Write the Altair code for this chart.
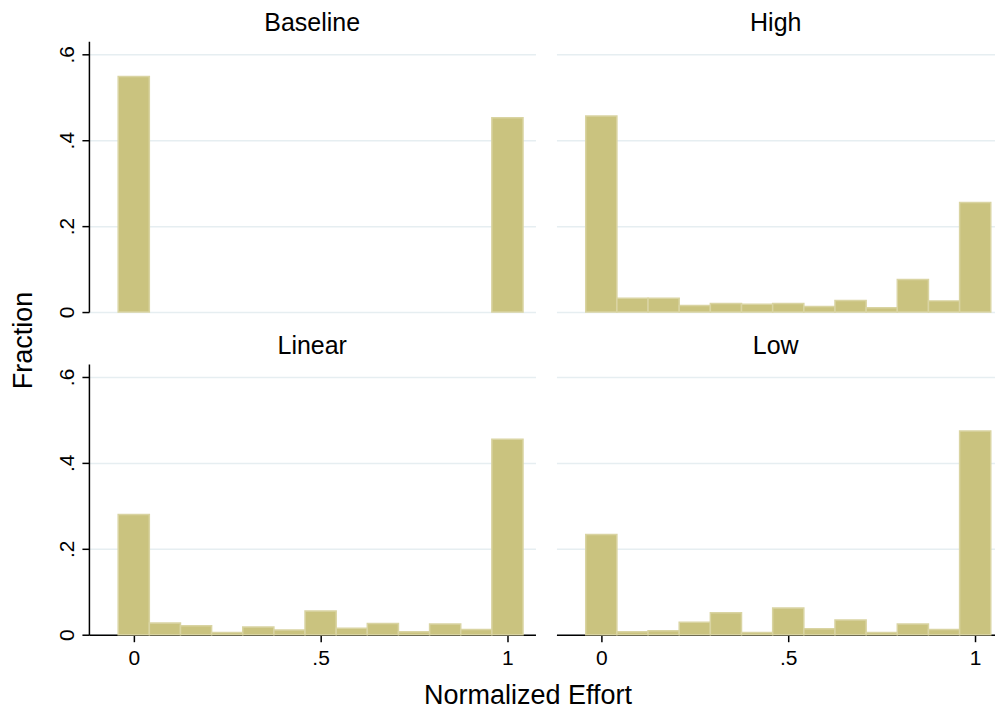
import altair as alt
import pandas as pd

groups = ["Baseline", "High", "Linear", "Low"]
bin_centers = [0, 1/12, 2/12, 3/12, 4/12, 5/12, 6/12, 7/12, 8/12, 9/12, 10/12, 11/12, 1]
bin_width = 1 / 12

baseline = [0.548, 0, 0, 0, 0, 0, 0, 0, 0, 0, 0, 0, 0.452]
high = [0.456, 0.032, 0.032, 0.0155, 0.020, 0.018, 0.020, 0.013, 0.027, 0.010, 0.076, 0.026, 0.255]
linear = [0.280, 0.027, 0.021, 0.005, 0.018, 0.011, 0.055, 0.015, 0.026, 0.007, 0.025, 0.012, 0.455]
low = [0.233, 0.007, 0.009, 0.029, 0.051, 0.005, 0.062, 0.014, 0.034, 0.005, 0.025, 0.012, 0.474]

x_ticks = [0, 0.5, 1]
y_ticks = [0, 0.2, 0.4, 0.6]

rows = []
for g, vals in zip(groups, [baseline, high, linear, low]):
    for c, v in zip(bin_centers, vals):
        if v > 0:
            rows.append({"group": g, "center": c, "frac": v})
df = pd.DataFrame(rows)

FILL = "#cac37f"
STROKE = "#d9d4a2"
GRID = "#e6eef1"
FONT = "Liberation Sans"

Y_LABELS = "datum.value == 0 ? '0' : replace(format(datum.value, '.1f'), '0.', '.')"
X_LABELS = "datum.value == 0 ? '0' : replace(format(datum.value, '~g'), '0.', '.')"


def panel(name, xdom, width, show_x, show_y, y_title=False, x_title=False):
    if show_x:
        xaxis = alt.Axis(
            values=x_ticks, labelExpr=X_LABELS, grid=False,
            domainColor="black", domainWidth=1.5,
            tickColor="black", tickWidth=1.5, tickSize=7,
            labelFont=FONT, labelFontSize=21, labelColor="black", labelPadding=6,
            labelFlush=False,
            title="Normalized Effort" if x_title else None,
            titleFont=FONT, titleFontSize=27, titleFontWeight="normal", titleColor="black",
            titleX=439, titleY=69, titleBaseline="alphabetic", titleAlign="center",
        )
    else:
        xaxis = None
    if show_y:
        yaxis = alt.Axis(
            values=y_ticks, labelExpr=Y_LABELS, labelAngle=270,
            labelAlign="center", labelBaseline="alphabetic",
            labelFont=FONT, labelFontSize=21, labelColor="black", labelPadding=8,
            domainColor="black", domainWidth=1.5,
            tickColor="black", tickWidth=1.5, tickSize=7,
            grid=True, gridColor=GRID, gridWidth=1.5,
            title="Fraction" if y_title else None,
            titleFont=FONT, titleFontSize=27, titleFontWeight="normal", titleColor="black",
            titleY=299, titlePadding=19,
        )
    else:
        yaxis = alt.Axis(
            values=y_ticks, domain=False, ticks=False, labels=False,
            grid=True, gridColor=GRID, gridWidth=1.5, title=None,
        )
    return (
        alt.Chart(df)
        .transform_filter(alt.datum.group == name)
        .transform_calculate(lo=f"datum.center - {bin_width / 2}", hi=f"datum.center + {bin_width / 2}")
        .mark_bar(fill=FILL, stroke=STROKE, strokeWidth=1.5)
        .encode(
            x=alt.X("lo:Q", scale=alt.Scale(domain=xdom, nice=False, zero=False), axis=xaxis),
            x2="hi:Q",
            y=alt.Y("frac:Q", scale=alt.Scale(domain=[0, 0.63], nice=False), axis=yaxis),
            y2=alt.datum(0),
        )
        .properties(
            width=width, height=271,
            title=alt.TitleParams(
                text=name, font=FONT, fontSize=25, fontWeight="normal", color="black",
                anchor="middle", baseline="alphabetic", offset=-15,
            ),
        )
    )


LEFT_DOM = [-0.12, 1.075]
RIGHT_DOM = [-0.12, 1.053]

tl = panel("Baseline", LEFT_DOM, 447, False, True, y_title=True)
tr = panel("High", RIGHT_DOM, 439, False, False)
bl = panel("Linear", LEFT_DOM, 447, True, True, x_title=True)
br = panel("Low", RIGHT_DOM, 439, True, False)

chart = (
    alt.concat(tl, tr, bl, br, columns=2, spacing={"row": 52, "column": 21}, bounds="flush")
    .properties(padding={"top": 3, "left": 2, "right": 0, "bottom": 0}, background="white")
    .configure_view(strokeWidth=0, strokeOpacity=0)
)

chart.save("out.html", embed_options={"renderer": "svg", "actions": False})
